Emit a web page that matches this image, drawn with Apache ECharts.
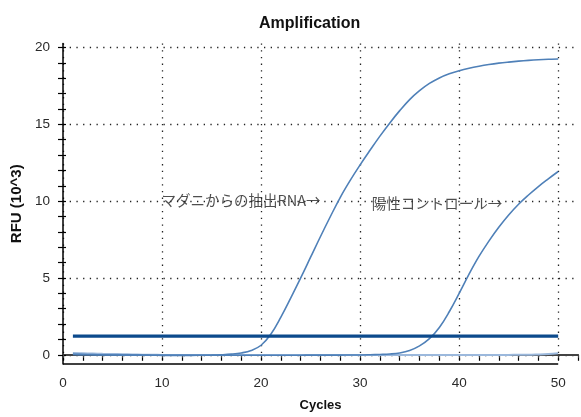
<!DOCTYPE html>
<html>
<head>
<meta charset="utf-8">
<script src="https://cdn.jsdelivr.net/npm/echarts@6/dist/echarts.min.js"></script>
<style>
  html, body { margin: 0; padding: 0; background: #fff; }
  #chart { width: 581px; height: 417px; }
</style>
</head>
<body>
<div id="chart"></div>
<script>
// Cycle numbers (x) for every amplification trace
const cycles = [1,2,3,4,5,6,7,8,9,10,11,12,13,14,15,16,17,18,19,20,21,22,23,24,25,
                26,27,28,29,30,31,32,33,34,35,36,37,38,39,40,41,42,43,44,45,46,47,48,49,50];

// RFU (x10^3): RNA extracted from ticks
const tickRnaRfu = [0.03,0.02,0.01,0.00,-0.01,-0.02,-0.02,-0.03,-0.03,-0.04,
                    -0.04,-0.04,-0.04,-0.03,-0.02,0.00,0.04,0.12,0.28,0.62,
                    1.35,2.45,3.70,5.00,6.35,7.70,9.00,10.25,11.35,12.36,
                    13.31,14.23,15.09,15.89,16.61,17.19,17.66,18.02,18.29,18.49,
                    18.65,18.78,18.89,18.98,19.05,19.11,19.16,19.20,19.23,19.25];

// RFU (x10^3): positive control
const positiveRfu = [0.02,0.01,0.00,-0.01,-0.01,-0.02,-0.02,-0.02,-0.03,-0.03,
                     -0.03,-0.03,-0.03,-0.03,-0.03,-0.03,-0.03,-0.03,-0.03,-0.03,
                     -0.03,-0.03,-0.03,-0.03,-0.02,-0.02,-0.02,-0.02,-0.01,-0.01,
                     0.00,0.02,0.05,0.12,0.28,0.58,1.05,1.78,2.80,4.00,
                     5.25,6.40,7.40,8.30,9.10,9.80,10.40,10.95,11.45,11.93];

// RFU (x10^3): non-amplifying trace
const negativeRfu = [0.12,0.10,0.08,0.06,0.05,0.04,0.02,0.01,0.00,-0.01,
                     -0.02,-0.02,-0.02,-0.02,-0.02,-0.02,-0.02,-0.02,-0.02,-0.02,
                     -0.02,-0.02,-0.02,-0.02,-0.02,-0.02,-0.02,-0.02,-0.02,-0.02,
                     -0.02,-0.02,-0.02,-0.02,-0.02,-0.02,-0.02,-0.02,-0.02,-0.02,
                     -0.02,-0.02,-0.02,-0.01,-0.01,0.00,0.00,0.02,0.05,0.10];

// Threshold line (RFU x10^3) spanning the run
const thresholdCycles = [1, 50];
const thresholdRfu = 1.22;

// Axis ranges and tick marks
const X_MIN = 0, X_MAX = 52, X_TICK_STEP = 2, X_LAST_CYCLE = 50;
const Y_MIN = -0.6, Y_MAX = 20.26;
const yTickValues = [0,1,2,3,4,5,6,7,8,9,10,11,12,13,14,15,16,17,18,19,20];
const yLabelValues = [0,5,10,15,20];

// Text annotations placed in data coordinates
const noteTexts = ['マダニからの抽出RNA→', '陽性コントロール→'];
const noteCycles = [9.94, 31.17];
const noteRfu = [10.04, 9.85];

const pairs = (xs, ys) => xs.map((x, i) => [x, ys[i]]);

const AXIS_FONT = 'Liberation Sans, Arial, sans-serif';
const dotted = { type: [1.3, 5.4], width: 1.3 };
const T = 'rgba(0,0,0,0)';

const chart = echarts.init(document.getElementById('chart'), null, { renderer: 'canvas' });

const curveBase = { type: 'line', showSymbol: false, smooth: 0.4, silent: true };

chart.setOption({
  animation: false,
  backgroundColor: '#fff',
  title: {
    text: 'Amplification',
    left: 254, top: 11,
    textStyle: { fontFamily: AXIS_FONT, fontWeight: 'bold', fontSize: 16, color: '#111' }
  },
  grid: { left: 63, top: 43.5, width: 520, height: 323.5, containLabel: false },
  xAxis: [
    {
      type: 'value', position: 'bottom', min: X_MIN, max: X_MAX, interval: X_TICK_STEP,
      name: 'Cycles', nameLocation: 'middle', nameGap: 35,
      nameTextStyle: { fontFamily: AXIS_FONT, fontWeight: 'bold', fontSize: 13, color: '#111' },
      axisLine: { show: false },
      axisTick: { show: true, inside: false, length: 6, lineStyle: { color: '#000', width: 1.2 } },
      axisLabel: {
        margin: 12, fontFamily: AXIS_FONT, fontSize: 13.5, color: '#2a2a2a',
        formatter: v => (v % 10 === 0 && v <= X_LAST_CYCLE) ? String(v) : ''
      },
      splitLine: { show: true, lineStyle: Object.assign({ color: ['#222', T, T, T, T] }, dotted) }
    },
    {
      type: 'value', position: 'top', min: X_MIN, max: X_MAX, interval: X_TICK_STEP,
      axisLine: { show: true, lineStyle: { color: '#444', width: 2 } },
      axisTick: { show: true, inside: true, length: 3, lineStyle: { color: '#444', width: 1 } },
      axisLabel: { show: false },
      splitLine: { show: false }
    }
  ],
  yAxis: [
    {
      type: 'value', position: 'left', min: Y_MIN, max: Y_MAX,
      name: 'RFU (10^3)', nameLocation: 'middle', nameGap: 30, nameRotate: 90,
      nameTextStyle: { fontFamily: AXIS_FONT, fontWeight: 'bold', fontSize: 15, color: '#111' },
      axisLine: { show: true, lineStyle: { color: '#000', width: 1.5 } },
      axisTick: { show: true, inside: false, length: 5, customValues: yTickValues,
                  lineStyle: { color: '#000', width: 1.2 } },
      axisLabel: { margin: 13, fontFamily: AXIS_FONT, fontSize: 13.5, color: '#2a2a2a',
                   customValues: yLabelValues },
      splitLine: { show: true, lineStyle: Object.assign({ color: ['#222', T, T, T, T] }, dotted) }
    },
    {
      type: 'value', position: 'left', min: Y_MIN, max: Y_MAX,
      axisLine: { show: false },
      axisTick: { show: true, inside: true, length: 3, customValues: yTickValues,
                  lineStyle: { color: '#000', width: 1.2 } },
      axisLabel: { show: false },
      splitLine: { show: false }
    }
  ],
  series: [
    Object.assign({}, curveBase, {
      name: 'Negative', data: pairs(cycles, negativeRfu),
      lineStyle: { color: '#9bb8dc', width: 2 }
    }),
    Object.assign({}, curveBase, {
      name: 'Positive control', data: pairs(cycles, positiveRfu),
      lineStyle: { color: '#4f80b8', width: 1.6 }
    }),
    Object.assign({}, curveBase, {
      name: 'Tick RNA', data: pairs(cycles, tickRnaRfu),
      lineStyle: { color: '#4f80b8', width: 1.6 }
    }),
    {
      name: 'Threshold', type: 'line',
      data: thresholdCycles.map(c => [c, thresholdRfu]),
      showSymbol: false, silent: true, clip: false,
      lineStyle: { color: '#0c4a8c', width: 3.2 },
      markLine: {
        silent: true, symbol: 'none', label: { show: false },
        lineStyle: { color: '#000', width: 1.5, type: 'solid' },
        data: [[{ coord: [X_MIN, Y_MIN] }, { coord: [X_LAST_CYCLE, Y_MIN] }]]
      }
    },
    {
      name: 'Notes', type: 'scatter', symbolSize: 0, silent: true,
      data: noteTexts.map((t, i) => ({ name: t, value: [noteCycles[i], noteRfu[i]] })),
      label: {
        show: true, position: 'right', distance: 0,
        formatter: p => p.name,
        fontFamily: '"Noto Sans CJK JP", sans-serif', fontSize: 14.5, color: '#222'
      }
    }
  ]
});
</script>
</body>
</html>
